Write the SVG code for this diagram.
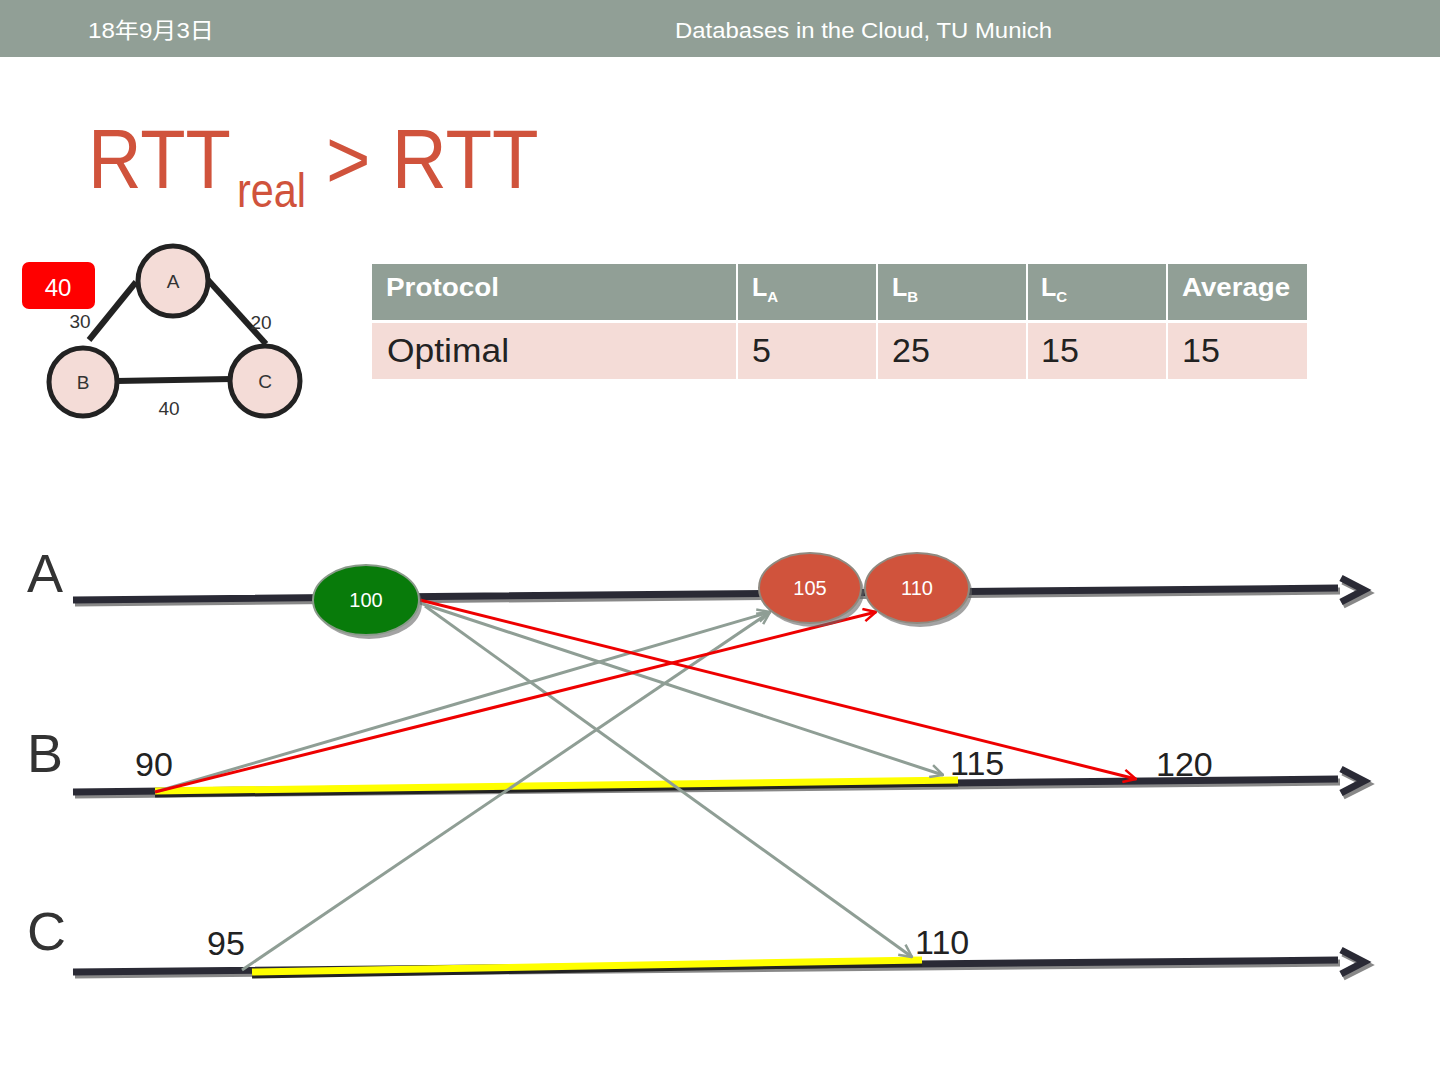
<svg xmlns="http://www.w3.org/2000/svg" width="1440" height="1080" viewBox="0 0 1440 1080">
<style>
.hdr{font-family:"Liberation Sans",Arial,"Noto Sans CJK SC",sans-serif;font-size:22px;fill:#fff}
.nl{font-family:"Liberation Sans",Arial,sans-serif;font-size:19px;fill:#333;text-anchor:middle}
.gn{fill:#f4dcd7;stroke:#222;stroke-width:5}
.edge{stroke:#222;stroke-width:6;stroke-linecap:butt}
.th{font-family:"Liberation Sans",Arial,sans-serif;font-size:25px;font-weight:bold;fill:#fff}
.td{font-family:"Liberation Sans",Arial,sans-serif;font-size:34px;fill:#222}
.tl{stroke:#2a2a35;stroke-width:7;fill:none}
.tls{stroke:#888;stroke-width:7;fill:none}
.lane{font-family:"Liberation Sans",Arial,sans-serif;font-size:54px;fill:#333}
.num{font-family:"Liberation Sans",Arial,sans-serif;font-size:34px;fill:#222}
.ev{font-family:"Liberation Sans",Arial,sans-serif;font-size:20px;fill:#fff;text-anchor:middle}
.g{stroke:#8f9e95;stroke-width:3;fill:none}
.r{stroke:#ee0000;stroke-width:3;fill:none}
.y{stroke:#ffff00;stroke-width:7;fill:none}
.yb{stroke:#222;stroke-width:9;fill:none}
</style>
<defs>
<marker id="ag" viewBox="0 0 12 12" refX="11" refY="6" markerWidth="5" markerHeight="5" markerUnits="strokeWidth" orient="auto">
<path d="M1,1 L11,6 L1,11" fill="none" stroke="#8f9e95" stroke-width="2"/>
</marker>
<marker id="ar" viewBox="0 0 12 12" refX="11" refY="6" markerWidth="5" markerHeight="5" markerUnits="strokeWidth" orient="auto">
<path d="M1,1 L11,6 L1,11" fill="none" stroke="#ee0000" stroke-width="2"/>
</marker>
</defs>
<rect width="1440" height="1080" fill="#fff"/>
<g id="header">
<rect x="0" y="0" width="1440" height="57" fill="#919f96"/>
<text class="hdr" x="88" y="38" textLength="126" lengthAdjust="spacingAndGlyphs">18年9月3日</text>
<text class="hdr" x="675" y="38" textLength="377" lengthAdjust="spacingAndGlyphs">Databases in the Cloud, TU Munich</text>
</g>
<g id="title" font-family="Liberation Sans,Arial,sans-serif" fill="#d0533c">
<text transform="translate(88,188) scale(0.883,1)" font-size="84">RTT</text>
<text transform="translate(237,207) scale(0.8625,1)" font-size="48">real</text>
<text transform="translate(326,188) scale(0.908,1)" font-size="84">&gt; RTT</text>
</g>
<g id="graph-edges">
<line class="edge" x1="136" y1="282" x2="89" y2="340"/>
<line class="edge" x1="208" y1="280" x2="266" y2="344"/>
<line class="edge" x1="116" y1="381" x2="232" y2="379"/>
</g>
<g id="gA"><circle class="gn" cx="173" cy="281" r="35"/><text class="nl" x="173" y="288">A</text></g>
<g id="gB"><circle class="gn" cx="83" cy="382" r="34"/><text class="nl" x="83" y="389">B</text></g>
<g id="gC"><circle class="gn" cx="265" cy="381" r="35"/><text class="nl" x="265" y="388">C</text></g>
<g id="edge-labels">
<text class="nl" x="80" y="328">30</text>
<text class="nl" x="261" y="329">20</text>
<text class="nl" x="169" y="415">40</text>
</g>
<g id="badge">
<rect x="22" y="262" width="73" height="47" rx="7" fill="#ff0000"/>
<text x="58" y="296" font-family="Liberation Sans,Arial,sans-serif" font-size="24" fill="#fff" text-anchor="middle">40</text>
</g>
<g id="table">
<rect x="372" y="264" width="935" height="56" fill="#919f96"/>
<rect x="372" y="323" width="935" height="56" fill="#f4dcd7"/>
<g stroke="#fff" stroke-width="2">
<line x1="737" y1="264" x2="737" y2="379"/>
<line x1="877" y1="264" x2="877" y2="379"/>
<line x1="1027" y1="264" x2="1027" y2="379"/>
<line x1="1167" y1="264" x2="1167" y2="379"/>
</g>
<text class="th" x="386" y="296" textLength="113" lengthAdjust="spacingAndGlyphs">Protocol</text>
<text class="th" x="752" y="296">L<tspan font-size="15" dy="6">A</tspan></text>
<text class="th" x="892" y="296">L<tspan font-size="15" dy="6">B</tspan></text>
<text class="th" x="1041" y="296">L<tspan font-size="15" dy="6">C</tspan></text>
<text class="th" x="1182" y="296" textLength="108" lengthAdjust="spacingAndGlyphs">Average</text>
<text class="td" x="387" y="362" textLength="122" lengthAdjust="spacingAndGlyphs">Optimal</text>
<text class="td" x="752" y="362">5</text>
<text class="td" x="892" y="362">25</text>
<text class="td" x="1041" y="362">15</text>
<text class="td" x="1182" y="362">15</text>
</g>
<g id="timelines">
<path class="tls" d="M75,603 L1340,591 M1343,581 L1367,593 L1343,605"/>
<path class="tl" d="M73,600 L1338,588 M1341,578 L1364,590 L1341,602"/>
<path class="tls" d="M75,795 L1340,782 M1343,772 L1367,784 L1343,796"/>
<path class="tl" d="M73,792 L1338,779 M1341,769 L1364,781 L1341,793"/>
<path class="tls" d="M75,975 L1340,963 M1343,953 L1367,965 L1343,977"/>
<path class="tl" d="M73,972 L1338,960 M1341,950 L1364,962 L1341,974"/>
<text class="lane" x="27" y="592">A</text>
<text class="lane" x="27" y="772">B</text>
<text class="lane" x="27" y="950">C</text>
</g>
<g id="highlights">
<path class="yb" d="M155,793 L958,782"/>
<path class="y" d="M155,791 L958,780"/>
<path class="yb" d="M252,974 L922,962"/>
<path class="y" d="M252,972 L922,960"/>
</g>
<g id="connectors">
<path class="g" d="M155,792 L770,612" marker-end="url(#ag)"/>
<path class="g" d="M242,970 L770,612" marker-end="url(#ag)"/>
<path class="g" d="M420,603 L943,775" marker-end="url(#ag)"/>
<path class="g" d="M425,606 L912,957" marker-end="url(#ag)"/>
<path class="r" d="M155,792 L876,612" marker-end="url(#ar)"/>
<path class="r" d="M420,600 L1136,779" marker-end="url(#ar)"/>
</g>
<g id="ev100">
<ellipse cx="369" cy="604" rx="53" ry="35" fill="#666" opacity="0.6"/>
<ellipse cx="366" cy="600" rx="53" ry="35" fill="#087b0a" stroke="#8a9a8a" stroke-width="2"/>
<text class="ev" x="366" y="607">100</text>
</g>
<g id="ev105">
<ellipse cx="813" cy="592" rx="51" ry="35" fill="#666" opacity="0.6"/>
<ellipse cx="810" cy="588" rx="51" ry="35" fill="#d0533c" stroke="#8f8a80" stroke-width="2"/>
<text class="ev" x="810" y="595">105</text>
</g>
<g id="ev110">
<ellipse cx="920" cy="592" rx="52" ry="35" fill="#666" opacity="0.6"/>
<ellipse cx="917" cy="588" rx="52" ry="35" fill="#d0533c" stroke="#8f8a80" stroke-width="2"/>
<text class="ev" x="917" y="595">110</text>
</g>
<g id="labels">
<text class="num" x="135" y="776">90</text>
<text class="num" x="950" y="775">115</text>
<text class="num" x="1156" y="776">120</text>
<text class="num" x="207" y="955">95</text>
<text class="num" x="915" y="954">110</text>
</g>
</svg>
